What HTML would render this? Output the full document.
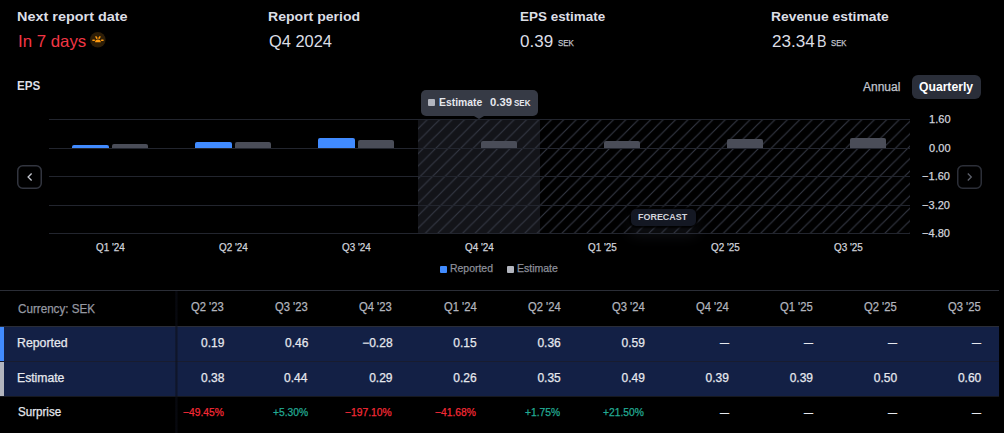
<!DOCTYPE html>
<html><head><meta charset="utf-8"><style>
html,body{margin:0;padding:0}
body{width:1004px;height:433px;background:#000;position:relative;overflow:hidden;font-family:'Liberation Sans', Arial, sans-serif}
.t{position:absolute;white-space:nowrap}
.s{-webkit-text-stroke:0.25px currentColor}
</style></head><body>
<div style='position:absolute;left:418px;top:119px;width:122px;height:114px;background:#131419'></div>
<svg style='position:absolute;left:0;top:0' width='1004' height='433'><defs><pattern id='hp' patternUnits='userSpaceOnUse' width='12.42' height='12.42' patternTransform='translate(0.38,0)'><path d='M-1,13.42 L13.42,-1 M-1,1 L1,-1 M11.42,13.42 L13.42,11.42' stroke='#333743' stroke-width='1.15'/></pattern></defs><rect x='418' y='119' width='492' height='114' fill='url(#hp)'/></svg>
<div style='position:absolute;left:49px;top:119px;width:861px;height:1px;background:#22252e'></div>
<div style='position:absolute;left:49px;top:148px;width:861px;height:1px;background:#22252e'></div>
<div style='position:absolute;left:49px;top:176px;width:861px;height:1px;background:#22252e'></div>
<div style='position:absolute;left:49px;top:205px;width:861px;height:1px;background:#22252e'></div>
<div style='position:absolute;left:49px;top:233px;width:861px;height:1px;background:#22252e'></div>
<div style='position:absolute;left:72.1px;top:145.42px;width:36.6px;height:2.58px;background:#418bff;border-radius:2px 2px 0 0'></div>
<div style='position:absolute;left:111.8px;top:143.53px;width:36.6px;height:4.47px;background:#4a4d58;border-radius:2px 2px 0 0'></div>
<div style='position:absolute;left:195.1px;top:141.81px;width:36.6px;height:6.19px;background:#418bff;border-radius:2px 2px 0 0'></div>
<div style='position:absolute;left:234.8px;top:141.98px;width:36.6px;height:6.02px;background:#4a4d58;border-radius:2px 2px 0 0'></div>
<div style='position:absolute;left:318.1px;top:137.85px;width:36.6px;height:10.15px;background:#418bff;border-radius:2px 2px 0 0'></div>
<div style='position:absolute;left:357.8px;top:139.57px;width:36.6px;height:8.43px;background:#4a4d58;border-radius:2px 2px 0 0'></div>
<div style='position:absolute;left:480.8px;top:141.29px;width:36.6px;height:6.71px;background:#4a4d58;border-radius:2px 2px 0 0'></div>
<div style='position:absolute;left:603.8px;top:141.29px;width:36.6px;height:6.71px;background:#4a4d58;border-radius:2px 2px 0 0'></div>
<div style='position:absolute;left:726.8px;top:139.4px;width:36.6px;height:8.6px;background:#4a4d58;border-radius:2px 2px 0 0'></div>
<div style='position:absolute;left:849.8px;top:137.68px;width:36.6px;height:10.32px;background:#4a4d58;border-radius:2px 2px 0 0'></div>
<div style='position:absolute;left:421px;top:90px;width:117px;height:26px;background:#363a45;border-radius:5px'></div>
<div style='position:absolute;left:474px;top:116px;width:0;height:0;border-left:5px solid transparent;border-right:5px solid transparent;border-top:3.2px solid #363a45'></div>
<div style='position:absolute;left:427.5px;top:99px;width:7px;height:7px;background:#b2b5be;border-radius:1px'></div>
<div style='position:absolute;left:912px;top:75px;width:69px;height:24px;background:#2a2e39;border-radius:6px'></div>
<svg width='25' height='24' style='position:absolute;left:17.2px;top:164.8px'><rect x='0.75' y='0.75' width='23.5' height='22.5' rx='5' fill='none' stroke='#32353f' stroke-width='1.5'/><path d='M14.6 8.5 L11.1 12 L14.6 15.5' fill='none' stroke='#c3c6ce' stroke-width='1.3'/></svg>
<svg width='25' height='24' style='position:absolute;left:956.5px;top:164.8px'><rect x='0.75' y='0.75' width='23.5' height='22.5' rx='5' fill='none' stroke='#2c2f38' stroke-width='1.5'/><path d='M10.8 8.5 L14.3 12 L10.8 15.5' fill='none' stroke='#5d606b' stroke-width='1.3'/></svg>
<div style='position:absolute;left:440px;top:266px;width:7px;height:7px;background:#418bff;border-radius:1px'></div>
<div style='position:absolute;left:507px;top:266px;width:7px;height:7px;background:#b2b5be;border-radius:1px'></div>
<div style='position:absolute;left:631px;top:208.5px;width:64.5px;height:17.5px;background:#141823;border-radius:5px;box-shadow:0 0 2px 2px rgba(0,0,0,0.9), 0 8px 14px 2px rgba(70,74,90,0.22)'></div>
<svg width='16' height='16' viewBox='0 0 16 16' style='position:absolute;left:90.2px;top:32.4px'><circle cx='7.8' cy='7.8' r='7.8' fill='#2e1e07'/><path d='M5 10.3 A2.9 2.9 0 0 1 10.8 10.3 Z' fill='#ff9a0e'/><path d='M6 4.9 L6.9 6.2 M9.9 4.9 L9 6.2 M2.9 8.3 H4.3 M11.6 8.3 H13' stroke='#ff9a0e' stroke-width='1.5' stroke-linecap='round'/></svg>
<div style='position:absolute;left:0px;top:290px;width:999px;height:1px;background:#2a2d36'></div>
<div style='position:absolute;left:0px;top:326px;width:999px;height:1px;background:#2a2d38'></div>
<div style='position:absolute;left:0px;top:327px;width:999px;height:69px;background:#132045'></div>
<div style='position:absolute;left:0px;top:361px;width:999px;height:1px;background:#181c2f'></div>
<div style='position:absolute;left:0px;top:396px;width:999px;height:1px;background:#16181f'></div>
<div style='position:absolute;left:0px;top:327px;width:4px;height:34px;background:#418bff'></div>
<div style='position:absolute;left:0px;top:362px;width:4px;height:34px;background:#b2b5be'></div>
<div style='position:absolute;left:175px;top:291px;width:3px;height:142px;background:linear-gradient(to right, rgba(12,14,24,0.35), rgba(12,14,24,0.6), rgba(12,14,24,0.2))'></div>
<span class='t' style='left:16.93px;top:9.87px;color:#dcdee5;font-size:13.5px;line-height:13.5px;font-weight:700;transform:scaleX(1.0686);transform-origin:0 0;'>Next report date</span>
<span class='t' style='left:267.96px;top:9.87px;color:#dcdee5;font-size:13.5px;line-height:13.5px;font-weight:700;transform:scaleX(1.0414);transform-origin:0 0;'>Report period</span>
<span class='t' style='left:519.60px;top:9.87px;color:#dcdee5;font-size:13.5px;line-height:13.5px;font-weight:700;transform:scaleX(0.9964);transform-origin:0 0;'>EPS estimate</span>
<span class='t' style='left:771.07px;top:9.87px;color:#dcdee5;font-size:13.5px;line-height:13.5px;font-weight:700;transform:scaleX(1.0254);transform-origin:0 0;'>Revenue estimate</span>
<span class='t' style='left:17.58px;top:32.83px;color:#f23645;font-size:16.5px;line-height:16.5px;font-weight:400;transform:scaleX(1.0197);transform-origin:0 0;'>In 7 days</span>
<span class='t' style='left:269.00px;top:32.73px;color:#dcdee5;font-size:16.5px;line-height:16.5px;font-weight:400;transform:scaleX(0.9952);transform-origin:0 0;'>Q4 2024</span>
<span class='t' style='left:520.40px;top:32.73px;color:#dcdee5;font-size:16.5px;line-height:16.5px;font-weight:400;transform:scaleX(1.0312);transform-origin:0 0;'>0.39</span>
<span class='t s' style='left:558.20px;top:38.98px;color:#c3c6ce;font-size:9px;line-height:9px;font-weight:400;transform:scaleX(0.8833);transform-origin:0 0;'>SEK</span>
<span class='t' style='left:772.10px;top:32.73px;color:#dcdee5;font-size:16.5px;line-height:16.5px;font-weight:400;transform:scaleX(1.0366);transform-origin:0 0;'>23.34</span>
<span class='t' style='left:817.44px;top:32.73px;color:#dcdee5;font-size:16.5px;line-height:16.5px;font-weight:400;transform:scaleX(0.8600);transform-origin:0 0;'>B</span>
<span class='t s' style='left:831.30px;top:38.98px;color:#c3c6ce;font-size:9px;line-height:9px;font-weight:400;transform:scaleX(0.8611);transform-origin:0 0;'>SEK</span>
<span class='t' style='left:17.30px;top:79.10px;color:#dcdee5;font-size:13px;line-height:13px;font-weight:700;transform:scaleX(0.8960);transform-origin:0 0;'>EPS</span>
<span class='t s' style='left:863.00px;top:80.84px;color:#c3c6ce;font-size:12px;line-height:12px;font-weight:400;transform:scaleX(1.0000);transform-origin:0 0;'>Annual</span>
<span class='t' style='left:919.30px;top:80.84px;color:#ffffff;font-size:12px;line-height:12px;font-weight:700;transform:scaleX(1.0130);transform-origin:0 0;'>Quarterly</span>
<span class='t' style='left:438.60px;top:97.29px;color:#e6e8ee;font-size:11px;line-height:11px;font-weight:700;transform:scaleX(0.9435);transform-origin:0 0;'>Estimate</span>
<span class='t' style='left:489.50px;top:97.29px;color:#e6e8ee;font-size:11px;line-height:11px;font-weight:700;transform:scaleX(1.0238);transform-origin:0 0;'>0.39</span>
<span class='t' style='left:514.00px;top:99.40px;color:#e6e8ee;font-size:8.5px;line-height:8.5px;font-weight:700;transform:scaleX(0.9412);transform-origin:0 0;'>SEK</span>
<span class='t s' style='left:929.10px;top:114.29px;color:#d1d4dc;font-size:11px;line-height:11px;font-weight:400;'>1.60</span>
<span class='t s' style='left:929.10px;top:143.29px;color:#d1d4dc;font-size:11px;line-height:11px;font-weight:400;'>0.00</span>
<span class='t s' style='left:922.10px;top:171.29px;color:#d1d4dc;font-size:11px;line-height:11px;font-weight:400;'>−1.60</span>
<span class='t s' style='left:922.10px;top:200.29px;color:#d1d4dc;font-size:11px;line-height:11px;font-weight:400;'>−3.20</span>
<span class='t s' style='left:922.10px;top:228.29px;color:#d1d4dc;font-size:11px;line-height:11px;font-weight:400;'>−4.80</span>
<span class='t s' style='left:95.90px;top:241.99px;color:#d1d4dc;font-size:11px;line-height:11px;font-weight:400;transform:scaleX(0.9000);transform-origin:0 0;'>Q1 &#x27;24</span>
<span class='t s' style='left:218.90px;top:241.99px;color:#d1d4dc;font-size:11px;line-height:11px;font-weight:400;transform:scaleX(0.9000);transform-origin:0 0;'>Q2 &#x27;24</span>
<span class='t s' style='left:341.90px;top:241.99px;color:#d1d4dc;font-size:11px;line-height:11px;font-weight:400;transform:scaleX(0.9000);transform-origin:0 0;'>Q3 &#x27;24</span>
<span class='t s' style='left:464.90px;top:241.99px;color:#d1d4dc;font-size:11px;line-height:11px;font-weight:400;transform:scaleX(0.9000);transform-origin:0 0;'>Q4 &#x27;24</span>
<span class='t s' style='left:587.90px;top:241.99px;color:#d1d4dc;font-size:11px;line-height:11px;font-weight:400;transform:scaleX(0.9000);transform-origin:0 0;'>Q1 &#x27;25</span>
<span class='t s' style='left:710.90px;top:241.99px;color:#d1d4dc;font-size:11px;line-height:11px;font-weight:400;transform:scaleX(0.9000);transform-origin:0 0;'>Q2 &#x27;25</span>
<span class='t s' style='left:833.90px;top:241.99px;color:#d1d4dc;font-size:11px;line-height:11px;font-weight:400;transform:scaleX(0.9000);transform-origin:0 0;'>Q3 &#x27;25</span>
<span class='t s' style='left:450.05px;top:263.39px;color:#8c8f99;font-size:11px;line-height:11px;font-weight:400;transform:scaleX(0.9500);transform-origin:0 0;'>Reported</span>
<span class='t s' style='left:516.95px;top:263.39px;color:#8c8f99;font-size:11px;line-height:11px;font-weight:400;transform:scaleX(0.9548);transform-origin:0 0;'>Estimate</span>
<span class='t' style='left:638.30px;top:213.08px;color:#d1d4dc;font-size:9px;line-height:9px;font-weight:700;transform:scaleX(0.9940);transform-origin:0 0;'>FORECAST</span>
<span class='t s' style='left:17.80px;top:302.74px;color:#9598a1;font-size:12px;line-height:12px;font-weight:400;transform:scaleX(0.9709);transform-origin:0 0;'>Currency: SEK</span>
<span class='t s' style='left:191.20px;top:300.64px;color:#b2b5be;font-size:12px;line-height:12px;font-weight:400;transform:scaleX(0.9370);transform-origin:0 0;'>Q2 &#x27;23</span>
<span class='t s' style='left:201.00px;top:336.94px;color:#e6e8ee;font-size:12px;line-height:12px;font-weight:400;'>0.19</span>
<span class='t s' style='left:201.00px;top:372.04px;color:#e6e8ee;font-size:12px;line-height:12px;font-weight:400;'>0.38</span>
<span class='t s' style='left:182.86px;top:406.99px;color:#f42a36;font-size:11px;line-height:11px;font-weight:400;transform:scaleX(0.9350);transform-origin:0 0;'>−49.45%</span>
<span class='t s' style='left:275.31px;top:300.64px;color:#b2b5be;font-size:12px;line-height:12px;font-weight:400;transform:scaleX(0.9370);transform-origin:0 0;'>Q3 &#x27;23</span>
<span class='t s' style='left:285.10px;top:336.94px;color:#e6e8ee;font-size:12px;line-height:12px;font-weight:400;'>0.46</span>
<span class='t s' style='left:284.10px;top:372.04px;color:#e6e8ee;font-size:12px;line-height:12px;font-weight:400;'>0.44</span>
<span class='t s' style='left:272.57px;top:406.99px;color:#22ab94;font-size:11px;line-height:11px;font-weight:400;transform:scaleX(0.9350);transform-origin:0 0;'>+5.30%</span>
<span class='t s' style='left:359.40px;top:300.64px;color:#b2b5be;font-size:12px;line-height:12px;font-weight:400;transform:scaleX(0.9370);transform-origin:0 0;'>Q4 &#x27;23</span>
<span class='t s' style='left:362.20px;top:336.94px;color:#e6e8ee;font-size:12px;line-height:12px;font-weight:400;'>−0.28</span>
<span class='t s' style='left:369.20px;top:372.04px;color:#e6e8ee;font-size:12px;line-height:12px;font-weight:400;'>0.29</span>
<span class='t s' style='left:345.45px;top:406.99px;color:#f42a36;font-size:11px;line-height:11px;font-weight:400;transform:scaleX(0.9350);transform-origin:0 0;'>−197.10%</span>
<span class='t s' style='left:443.50px;top:300.64px;color:#b2b5be;font-size:12px;line-height:12px;font-weight:400;transform:scaleX(0.9370);transform-origin:0 0;'>Q1 &#x27;24</span>
<span class='t s' style='left:453.30px;top:336.94px;color:#e6e8ee;font-size:12px;line-height:12px;font-weight:400;'>0.15</span>
<span class='t s' style='left:453.30px;top:372.04px;color:#e6e8ee;font-size:12px;line-height:12px;font-weight:400;'>0.26</span>
<span class='t s' style='left:435.16px;top:406.99px;color:#f42a36;font-size:11px;line-height:11px;font-weight:400;transform:scaleX(0.9350);transform-origin:0 0;'>−41.68%</span>
<span class='t s' style='left:527.61px;top:300.64px;color:#b2b5be;font-size:12px;line-height:12px;font-weight:400;transform:scaleX(0.9370);transform-origin:0 0;'>Q2 &#x27;24</span>
<span class='t s' style='left:537.40px;top:336.94px;color:#e6e8ee;font-size:12px;line-height:12px;font-weight:400;'>0.36</span>
<span class='t s' style='left:537.40px;top:372.04px;color:#e6e8ee;font-size:12px;line-height:12px;font-weight:400;'>0.35</span>
<span class='t s' style='left:524.87px;top:406.99px;color:#22ab94;font-size:11px;line-height:11px;font-weight:400;transform:scaleX(0.9350);transform-origin:0 0;'>+1.75%</span>
<span class='t s' style='left:611.71px;top:300.64px;color:#b2b5be;font-size:12px;line-height:12px;font-weight:400;transform:scaleX(0.9370);transform-origin:0 0;'>Q3 &#x27;24</span>
<span class='t s' style='left:621.50px;top:336.94px;color:#e6e8ee;font-size:12px;line-height:12px;font-weight:400;'>0.59</span>
<span class='t s' style='left:621.50px;top:372.04px;color:#e6e8ee;font-size:12px;line-height:12px;font-weight:400;'>0.49</span>
<span class='t s' style='left:603.36px;top:406.99px;color:#22ab94;font-size:11px;line-height:11px;font-weight:400;transform:scaleX(0.9350);transform-origin:0 0;'>+21.50%</span>
<span class='t s' style='left:695.80px;top:300.64px;color:#b2b5be;font-size:12px;line-height:12px;font-weight:400;transform:scaleX(0.9370);transform-origin:0 0;'>Q4 &#x27;24</span>
<span class='t s' style='left:719.90px;top:336.94px;color:#e6e8ee;font-size:12px;line-height:12px;font-weight:400;transform:scaleX(0.7500);transform-origin:0 0;'>—</span>
<span class='t s' style='left:705.60px;top:372.04px;color:#e6e8ee;font-size:12px;line-height:12px;font-weight:400;'>0.39</span>
<span class='t s' style='left:719.90px;top:406.84px;color:#e6e8ee;font-size:12px;line-height:12px;font-weight:400;transform:scaleX(0.7500);transform-origin:0 0;'>—</span>
<span class='t s' style='left:779.90px;top:300.64px;color:#b2b5be;font-size:12px;line-height:12px;font-weight:400;transform:scaleX(0.9370);transform-origin:0 0;'>Q1 &#x27;25</span>
<span class='t s' style='left:804.00px;top:336.94px;color:#e6e8ee;font-size:12px;line-height:12px;font-weight:400;transform:scaleX(0.7500);transform-origin:0 0;'>—</span>
<span class='t s' style='left:789.70px;top:372.04px;color:#e6e8ee;font-size:12px;line-height:12px;font-weight:400;'>0.39</span>
<span class='t s' style='left:804.00px;top:406.84px;color:#e6e8ee;font-size:12px;line-height:12px;font-weight:400;transform:scaleX(0.7500);transform-origin:0 0;'>—</span>
<span class='t s' style='left:864.00px;top:300.64px;color:#b2b5be;font-size:12px;line-height:12px;font-weight:400;transform:scaleX(0.9370);transform-origin:0 0;'>Q2 &#x27;25</span>
<span class='t s' style='left:888.10px;top:336.94px;color:#e6e8ee;font-size:12px;line-height:12px;font-weight:400;transform:scaleX(0.7500);transform-origin:0 0;'>—</span>
<span class='t s' style='left:873.80px;top:372.04px;color:#e6e8ee;font-size:12px;line-height:12px;font-weight:400;'>0.50</span>
<span class='t s' style='left:888.10px;top:406.84px;color:#e6e8ee;font-size:12px;line-height:12px;font-weight:400;transform:scaleX(0.7500);transform-origin:0 0;'>—</span>
<span class='t s' style='left:948.11px;top:300.64px;color:#b2b5be;font-size:12px;line-height:12px;font-weight:400;transform:scaleX(0.9370);transform-origin:0 0;'>Q3 &#x27;25</span>
<span class='t s' style='left:972.20px;top:336.94px;color:#e6e8ee;font-size:12px;line-height:12px;font-weight:400;transform:scaleX(0.7500);transform-origin:0 0;'>—</span>
<span class='t s' style='left:957.90px;top:372.04px;color:#e6e8ee;font-size:12px;line-height:12px;font-weight:400;'>0.60</span>
<span class='t s' style='left:972.20px;top:406.84px;color:#e6e8ee;font-size:12px;line-height:12px;font-weight:400;transform:scaleX(0.7500);transform-origin:0 0;'>—</span>
<span class='t s' style='left:17.07px;top:336.94px;color:#e6e8ee;font-size:12px;line-height:12px;font-weight:400;transform:scaleX(1.0271);transform-origin:0 0;'>Reported</span>
<span class='t s' style='left:17.08px;top:372.04px;color:#e6e8ee;font-size:12px;line-height:12px;font-weight:400;transform:scaleX(1.0152);transform-origin:0 0;'>Estimate</span>
<span class='t s' style='left:18.00px;top:406.44px;color:#e6e8ee;font-size:12px;line-height:12px;font-weight:400;transform:scaleX(0.9667);transform-origin:0 0;'>Surprise</span>
</body></html>
